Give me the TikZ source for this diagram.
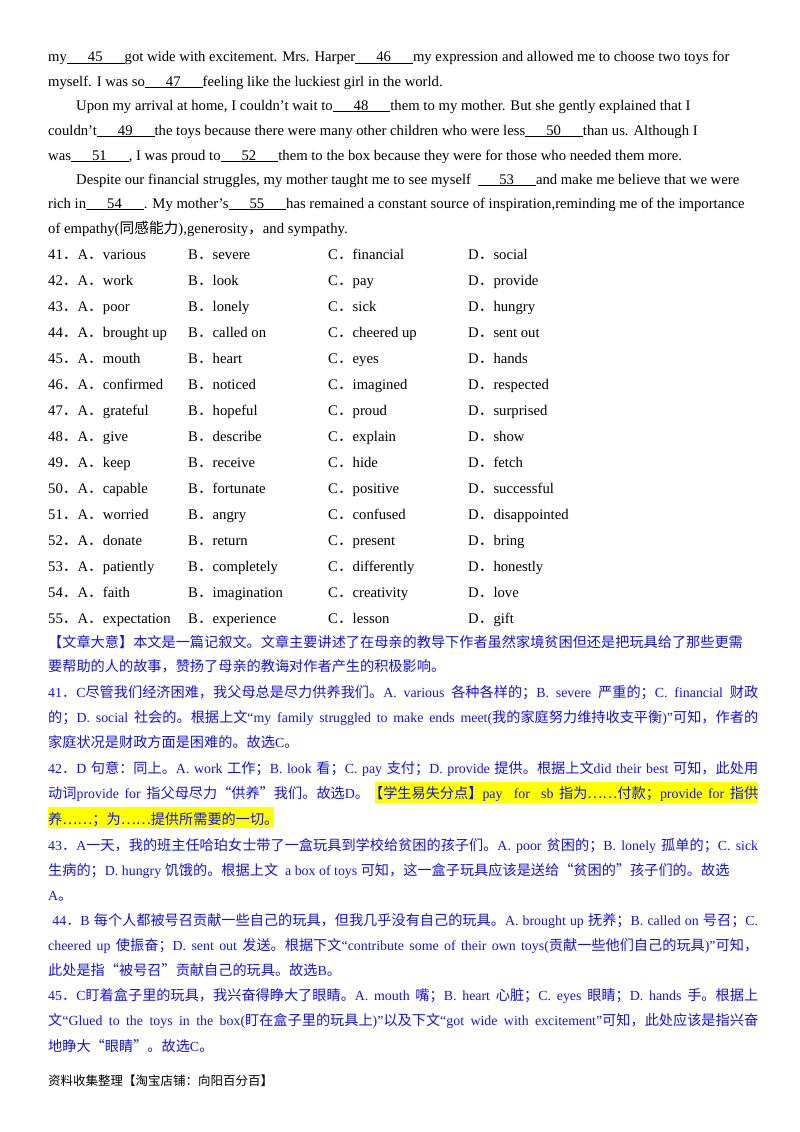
\documentclass[tikz,border=0pt]{standalone}
\usepackage{fontspec}
\setmainfont{Liberation Serif}
\newfontfamily\cjka{Noto Sans CJK SC}[Scale=1.0]
\newfontfamily\cjkb{Noto Sans CJK SC}[Scale=1.02]
\let\cjk\cjka
\newcommand\z[1]{{\cjk #1}}
\XeTeXlinebreaklocale "zh"
\XeTeXlinebreakskip=0pt plus 2pt
\definecolor{tblue}{RGB}{20,20,225}
\definecolor{hl}{RGB}{255,255,0}
\newcommand\bl[1]{\underline{\hspace{21pt}#1\hspace{22pt}}}
\tikzset{tl/.style={anchor=base west,inner sep=0pt,font=\fontsize{14.7}{26}\selectfont},
 bt/.style={anchor=base west,inner sep=0pt,text=tblue,font=\fontsize{13.9}{26}\selectfont\let\cjk\cjkb}}
\newcommand\Tx[3]{\node[tl] at (#1,#2) {#3};}
\newcommand\Jb[2]{\node[bt] at (48,#1) {\hbox to 710pt{#2}};}
\newcommand\Lb[2]{\node[bt] at (48,#1) {#2};}
\newcommand\Opt[5]{\node[tl] at (48,#1) {#2}; \node[tl] at (188,#1) {#3}; \node[tl] at (328,#1) {#4}; \node[tl] at (468,#1) {#5};}
\begin{document}
\begin{tikzpicture}[x=1pt,y=-1pt]
\useasboundingbox (0,0) rectangle (800,1132);
\fill[white] (0,0) rectangle (800,1132);
\fill[hl] (375,782) rectangle (758,803);
\fill[hl] (48,807) rectangle (274,828);
\Tx{48}{62}{my\bl{45}got wide with excitement. Mrs. Harper\bl{46}my expression and allowed me to choose two toys for}
\Tx{48}{86}{myself. I was so\bl{47}feeling like the luckiest girl in the world.}
\Tx{76}{110}{Upon my arrival at home, I couldn’t wait to\bl{48}them to my mother. But she gently explained that I}
\Tx{48}{135}{couldn’t\bl{49}the toys because there were many other children who were less\bl{50}than us. Although I}
\Tx{48}{160}{was\bl{51}, I was proud to\bl{52}them to the box because they were for those who needed them more.}
\Tx{76}{184}{Despite our financial struggles, my mother taught me to see myself \ \bl{53}and make me believe that we were}
\Tx{48}{208}{rich in\bl{54}. My mother’s\bl{55}has remained a constant source of inspiration,reminding me of the importance}
\Tx{48}{233}{of empathy(\z{同感能力}),generosity\z{，}and sympathy.}
\Opt{259}{41\z{．}A\z{．}various}{B\z{．}severe}{C\z{．}financial}{D\z{．}social}
\Opt{285}{42\z{．}A\z{．}work}{B\z{．}look}{C\z{．}pay}{D\z{．}provide}
\Opt{311}{43\z{．}A\z{．}poor}{B\z{．}lonely}{C\z{．}sick}{D\z{．}hungry}
\Opt{337}{44\z{．}A\z{．}brought up}{B\z{．}called on}{C\z{．}cheered up}{D\z{．}sent out}
\Opt{363}{45\z{．}A\z{．}mouth}{B\z{．}heart}{C\z{．}eyes}{D\z{．}hands}
\Opt{389}{46\z{．}A\z{．}confirmed}{B\z{．}noticed}{C\z{．}imagined}{D\z{．}respected}
\Opt{415}{47\z{．}A\z{．}grateful}{B\z{．}hopeful}{C\z{．}proud}{D\z{．}surprised}
\Opt{441}{48\z{．}A\z{．}give}{B\z{．}describe}{C\z{．}explain}{D\z{．}show}
\Opt{467}{49\z{．}A\z{．}keep}{B\z{．}receive}{C\z{．}hide}{D\z{．}fetch}
\Opt{493}{50\z{．}A\z{．}capable}{B\z{．}fortunate}{C\z{．}positive}{D\z{．}successful}
\Opt{519}{51\z{．}A\z{．}worried}{B\z{．}angry}{C\z{．}confused}{D\z{．}disappointed}
\Opt{545}{52\z{．}A\z{．}donate}{B\z{．}return}{C\z{．}present}{D\z{．}bring}
\Opt{571}{53\z{．}A\z{．}patiently}{B\z{．}completely}{C\z{．}differently}{D\z{．}honestly}
\Opt{597}{54\z{．}A\z{．}faith}{B\z{．}imagination}{C\z{．}creativity}{D\z{．}love}
\Opt{623}{55\z{．}A\z{．}expectation}{B\z{．}experience}{C\z{．}lesson}{D\z{．}gift}
\Jb{647}{\z{【文章大意】本文是一篇记叙文。文章主要讲述了在母亲的教导下作者虽然家境贫困但还是把玩具给了那些更需}}
\Lb{671}{\z{要帮助的人的故事，赞扬了母亲的教诲对作者产生的积极影响。}}
\Jb{697}{41\z{．}C\z{尽管我们经济困难，我父母总是尽力供养我们。}A. various \z{各种各样的；}B. severe \z{严重的；}C. financial \z{财政}}
\Jb{722}{\z{的；}D. social \z{社会的。根据上文}“my family struggled to make ends meet(\z{我的家庭努力维持收支平衡})”\z{可知，作者的}}
\Lb{747}{\z{家庭状况是财政方面是困难的。故选}C\z{。}}
\Jb{773}{42\z{．}D \z{句意：同上。}A. work \z{工作；}B. look \z{看；}C. pay \z{支付；}D. provide \z{提供。根据上文}did their best \z{可知，此处用}}
\Jb{798}{\z{动词}provide for \z{指父母尽力“供养”我们。故选}D\z{。【学生易失分点】}pay \ for \ sb \z{指为……付款；}provide for \z{指供}}
\Lb{824}{\z{养……；为……提供所需要的一切。}}
\Jb{850}{43\z{．}A\z{一天，我的班主任哈珀女士带了一盒玩具到学校给贫困的孩子们。}A. poor \z{贫困的；}B. lonely \z{孤单的；}C. sick}
\Lb{875}{\z{生病的；}D. hungry \z{饥饿的。根据上文} \ a box of toys \z{可知，这一盒子玩具应该是送给“贫困的”孩子们的。故选}}
\Lb{900}{A\z{。}}
\Jb{925}{\ 44\z{．}B \z{每个人都被号召贡献一些自己的玩具，但我几乎没有自己的玩具。}A. brought up \z{抚养；}B. called on \z{号召；}C.}
\Jb{950}{cheered up \z{使振奋；}D. sent out \z{发送。根据下文}“contribute some of their own toys(\z{贡献一些他们自己的玩具})”\z{可知，}}
\Lb{975}{\z{此处是指“被号召”贡献自己的玩具。故选}B\z{。}}
\Jb{1000}{45\z{．}C\z{盯着盒子里的玩具，我兴奋得睁大了眼睛。}A. mouth \z{嘴；}B. heart \z{心脏；}C. eyes \z{眼睛；}D. hands \z{手。根据上}}
\Jb{1025}{\z{文}“Glued to the toys in the box(\z{盯在盒子里的玩具上})”\z{以及下文}“got wide with excitement”\z{可知，此处应该是指兴奋}}
\Lb{1051}{\z{地睁大“眼睛”。故选}C\z{。}}
\node[tl,font=\fontsize{12.5}{15}\selectfont] at (48,1085) {\z{资料收集整理【淘宝店铺：向阳百分百】}};
\end{tikzpicture}
\end{document}
